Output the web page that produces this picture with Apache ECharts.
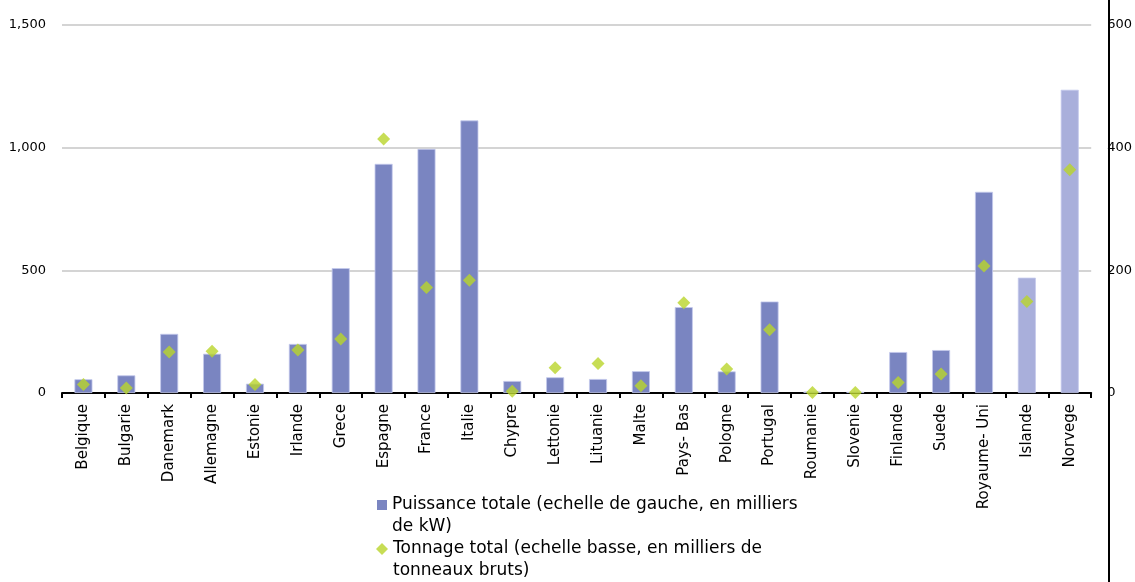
<!DOCTYPE html>
<html>
<head>
<meta charset="utf-8">
<script src="https://cdn.jsdelivr.net/npm/echarts@6/dist/echarts.min.js"></script>
<style>
  html, body { margin: 0; padding: 0; background: #ffffff; }
  #chart { width: 1135px; height: 582px; }
</style>
</head>
<body>
<div id="chart"></div>
<script>
// Pays de la flotte de pêche
const countries = ['Belgique', 'Bulgarie', 'Danemark', 'Allemagne', 'Estonie', 'Irlande', 'Grece',
  'Espagne', 'France', 'Italie', 'Chypre', 'Lettonie', 'Lituanie', 'Malte', 'Pays- Bas', 'Pologne',
  'Portugal', 'Roumanie', 'Slovenie', 'Finlande', 'Suede', 'Royaume- Uni', 'Islande', 'Norvege'];

// Puissance totale, milliers de kW (échelle de gauche)
const puissance = [56, 72, 241, 160, 38, 200, 509, 934, 995, 1111, 49, 64, 57, 89, 350, 88,
  373, 6, 5, 167, 175, 820, 470, 1236];

// Tonnage total, milliers de tonneaux bruts (échelle de droite)
const tonnage = [14, 8, 67, 68, 14, 70, 88, 414, 172, 184, 3, 41, 48, 12, 147, 39,
  103, 1, 1, 17, 31, 207, 149, 364];

// Pays hors UE, dessinés en teinte claire
const horsUE = ['Islande', 'Norvege'];

const leftTicks = { min: 0, max: 1500, interval: 500 };
const rightTicks = { min: 0, max: 600, interval: 200 };

const nomPuissance = 'Puissance totale (echelle de gauche, en milliers de kW)';
const nomTonnage = 'Tonnage total (echelle basse, en milliers de tonneaux bruts)';
// Une ligne vide en tête garde la première ligne du texte au niveau du symbole
const legendLines = {};
legendLines[nomPuissance] = '\nPuissance totale (echelle de gauche, en milliers\nde kW)';
legendLines[nomTonnage] = '\nTonnage total (echelle basse, en milliers de\ntonneaux bruts)';

const barColor = '#7a85c1';
const barColorLight = '#a9afdb';
const markColor = '#b9d52b';

const chart = echarts.init(document.getElementById('chart'), null, { renderer: 'canvas' });

const legendText = {
  color: '#000',
  fontFamily: 'DejaVu Sans',
  fontSize: 17,
  lineHeight: 22
};

chart.setOption({
  animation: false,
  backgroundColor: '#ffffff',
  grid: { left: 62, right: 43, top: 25, bottom: 189, containLabel: false },
  legend: [
    {
      data: [{ name: nomPuissance, icon: 'rect', itemStyle: { color: barColor, borderWidth: 0 } }],
      orient: 'vertical', left: 377, top: 472, padding: 0,
      itemWidth: 10, itemHeight: 10, itemGap: 0,
      formatter: n => legendLines[n],
      textStyle: legendText
    },
    {
      data: [{ name: nomTonnage, icon: 'diamond', itemStyle: { color: markColor } }],
      orient: 'vertical', left: 376, top: 516, padding: 0,
      itemWidth: 12, itemHeight: 12, itemGap: 0,
      formatter: n => legendLines[n],
      textStyle: legendText
    }
  ],
  xAxis: {
    type: 'category',
    data: countries,
    boundaryGap: true,
    axisLine: { show: true, lineStyle: { color: '#000', width: 2 } },
    axisTick: { show: true, alignWithLabel: false, length: 5, lineStyle: { color: '#000', width: 2 } },
    axisLabel: {
      rotate: 90, interval: 0, margin: 11,
      color: '#000', fontFamily: 'DejaVu Sans', fontSize: 15
    },
    splitLine: { show: false }
  },
  yAxis: [
    {
      type: 'value',
      min: leftTicks.min, max: leftTicks.max, interval: leftTicks.interval,
      axisLine: { show: false },
      axisTick: { show: false },
      axisLabel: {
        margin: 16, color: '#000', fontFamily: 'DejaVu Sans', fontSize: 13,
        formatter: v => v.toLocaleString('en-US')
      },
      splitLine: { show: true, lineStyle: { color: '#c6c6c6', width: 1.5 } }
    },
    {
      type: 'value',
      position: 'right',
      offset: 17,
      min: rightTicks.min, max: rightTicks.max, interval: rightTicks.interval,
      axisLine: { show: false },
      axisTick: { show: false },
      axisLabel: { margin: -1, color: '#000', fontFamily: 'DejaVu Sans', fontSize: 13 },
      splitLine: { show: false }
    }
  ],
  series: [
    {
      name: nomPuissance,
      type: 'bar',
      yAxisIndex: 0,
      barWidth: 18,
      data: puissance,
      itemStyle: {
        color: p => horsUE.includes(countries[p.dataIndex]) ? barColorLight : barColor,
        borderColor: '#c4c9ec',
        borderWidth: 0.8
      },
      z: 2
    },
    {
      name: nomTonnage,
      type: 'scatter',
      yAxisIndex: 1,
      symbol: 'diamond',
      symbolSize: 13,
      data: tonnage,
      itemStyle: { color: markColor },
      z: 3
    }
  ],
  graphic: [
    {
      // Trait vertical de l'échelle de droite, sur toute la hauteur
      type: 'rect',
      left: 1108, top: 0,
      shape: { width: 2, height: 582 },
      style: { fill: '#000' },
      z: 10
    }
  ]
});
</script>
</body>
</html>
